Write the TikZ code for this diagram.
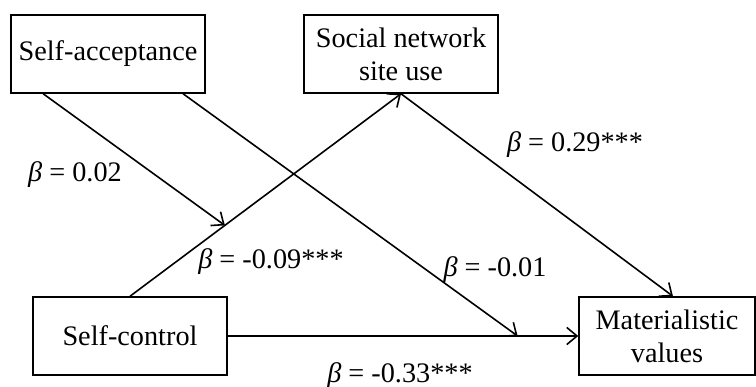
\documentclass[tikz,border=0pt]{standalone}
\usepackage{fontspec}
\setmainfont{Liberation Serif}
\usetikzlibrary{arrows.meta,positioning}

\begin{document}
\begin{tikzpicture}[x=0.4389pt, y=-0.4389pt, line width=0.7pt, >={Straight Barb[length=4.5pt,width=7.5pt]}, font=\fontsize{12.4}{14.6}\selectfont]
   \useasboundingbox (0,0) rectangle (756,387);
   \begin{scope}[every node/.style={draw, line width=0.9pt, minimum width=85pt, minimum height=34pt, align=center, inner sep=2pt}]
    \node (sa) at (108,54) {Self-acceptance};
    \node (sns) at (401,54) {Social network\\site use};
    \node (sc) at (130,336) {Self-control};
    \node (mv) [minimum width=77pt] at (667,336) {Materialistic\\values};
   \end{scope}
   \path (sc.north) -- (sns.south) coordinate[pos=0.35] (m1);
   \path (sc.east) -- (mv.west) coordinate[pos=0.827] (m2);
   \begin{scope}[->]
    \draw (sc.north) -- (sns.south);
    \draw (sns.south) -- ([xshift=2.6pt]mv.north);
    \draw (sc.east) -- (mv.west);
    \draw ([xshift=14.5pt]sa.south west) -- (m1);
    \draw ([xshift=-10pt]sa.south east) -- (m2);
   \end{scope}
   \node (b1) at (75,175) {\textit{β} = 0.02};
   \node (b2) at (271,262) {\textit{β} = -0.09***};
   \node (b3) at (495,270) {\textit{β} = -0.01};
   \node (b4) at (575,145) {\textit{β} = 0.29***};
   \node (b5) at (400,376) {\textit{β} = -0.33***};
\end{tikzpicture}
\end{document}
